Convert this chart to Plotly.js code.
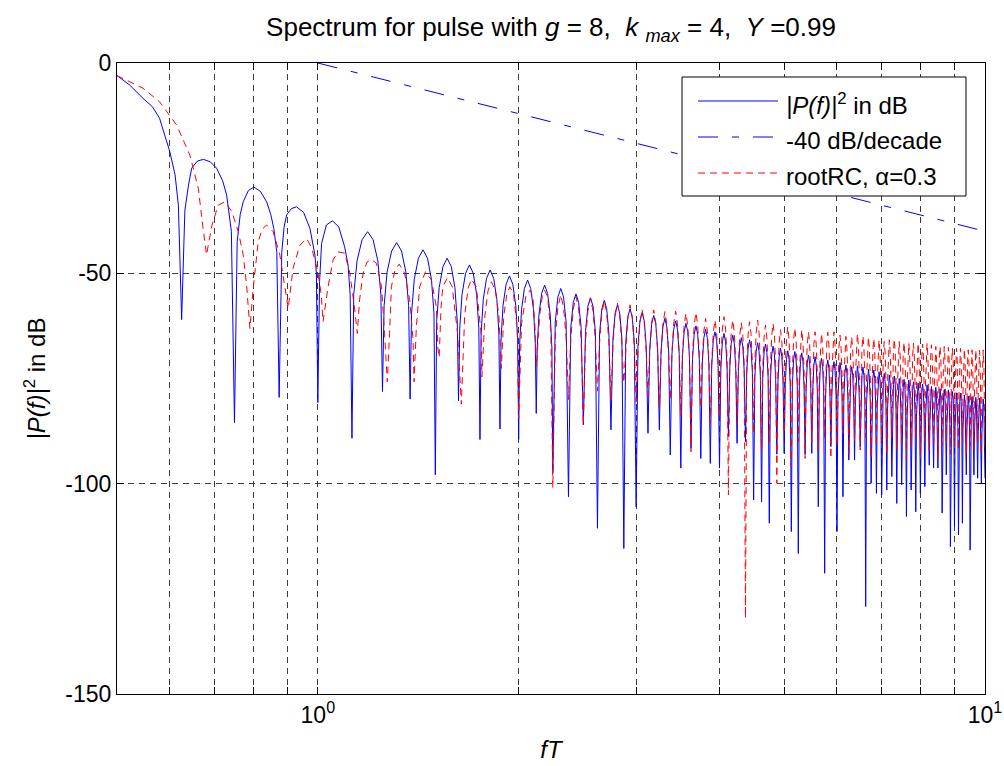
<!DOCTYPE html>
<html>
<head>
<meta charset="utf-8">
<script src="https://cdn.plot.ly/plotly-3.0.1.min.js"></script>
<style>
  html, body { margin: 0; padding: 0; background: #ffffff; }
  #chart { width: 1004px; height: 766px; }
</style>
</head>
<body>
<div id="chart"></div>
<script>
// ---------------- data ----------------
// |P(f)|^2 in dB : main lobe and first side lobes (fT <= 2.25)
const blueHeadF = [0.5, 0.522, 0.547, 0.565, 0.579, 0.6, 0.611, 0.618, 0.625,
  0.632, 0.64, 0.647, 0.66, 0.674, 0.69, 0.705, 0.72, 0.73, 0.742, 0.75,
  0.757, 0.765, 0.773, 0.787, 0.802, 0.82, 0.838, 0.85, 0.859, 0.868, 0.875,
  0.883, 0.89, 0.898, 0.913, 0.929, 0.952, 0.973, 0.99, 0.995, 1.0,
  1.006, 1.013, 1.03, 1.052, 1.075, 1.097, 1.11, 1.118, 1.125,
  1.132, 1.145, 1.165, 1.1875, 1.21, 1.23, 1.243, 1.25,
  1.257, 1.27, 1.29, 1.3125, 1.335, 1.355, 1.368, 1.375,
  1.382, 1.395, 1.415, 1.4375, 1.46, 1.48, 1.493, 1.5,
  1.507, 1.52, 1.54, 1.5625, 1.585, 1.605, 1.618, 1.625,
  1.632, 1.645, 1.665, 1.6875, 1.71, 1.73, 1.743, 1.75,
  1.757, 1.77, 1.79, 1.8125, 1.835, 1.855, 1.868, 1.875,
  1.882, 1.895, 1.915, 1.9375, 1.96, 1.98, 1.993, 2.0,
  2.007, 2.02, 2.04, 2.0625, 2.085, 2.105, 2.118, 2.125,
  2.132, 2.145, 2.165, 2.1875, 2.21, 2.23, 2.243, 2.25];
const blueHeadDb = [-3, -5.2, -8.4, -10.4, -13.1, -21.1, -26.6, -33.8, -61,
  -35, -29, -25, -23.3, -22.9, -23.5, -25, -28, -31.4, -40, -85.5,
  -42.5, -36, -33, -30.3, -29.5, -30.5, -33, -36, -39.3, -45, -79.5,
  -45, -39, -36.1, -34.6, -34.2, -35.5, -39.3, -45.6, -50, -80.7,
  -52, -42.9, -38.5, -37.5, -39, -43.7, -48, -55, -89.2,
  -55, -47, -42, -40.1, -42, -47, -55, -78.1,
  -57.7, -49.7, -44.7, -42.7, -44.7, -49.7, -57.7, -79.9,
  -59.4, -51.4, -46.4, -44.4, -46.4, -51.4, -59.4, -97.9,
  -61.4, -53.4, -48.4, -46.4, -48.4, -53.4, -61.4, -80.3,
  -63, -55, -50, -48, -50, -55, -63, -89.5,
  -64.2, -56.2, -51.2, -49.2, -51.2, -56.2, -64.2, -87,
  -65.6, -57.6, -52.6, -50.6, -52.6, -57.6, -65.6, -89.5,
  -66.6, -58.6, -53.6, -51.6, -53.6, -58.6, -66.6, -83.3,
  -67.8, -59.8, -54.8, -52.8, -54.8, -59.8, -67.8, -97.5];

// rootRC, alpha = 0.3 : first part (fT <= 2.25)
const redHeadF = [0.5, 0.547, 0.579, 0.614, 0.643, 0.662, 0.673, 0.681,
  0.694, 0.709, 0.726, 0.743, 0.76, 0.773, 0.782, 0.791,
  0.8, 0.814, 0.825, 0.838, 0.857, 0.877, 0.893, 0.903,
  0.918, 0.94, 0.962, 0.979, 1.0, 1.012, 1.018,
  1.036, 1.054, 1.072, 1.097, 1.117, 1.136, 1.146,
  1.155, 1.169, 1.185, 1.203, 1.224, 1.246, 1.259, 1.271,
  1.281, 1.289, 1.305, 1.324, 1.349, 1.373, 1.389, 1.394,
  1.405, 1.421, 1.45, 1.48, 1.505, 1.514, 1.52,
  1.53, 1.539, 1.565, 1.59, 1.62, 1.641,
  1.66, 1.68, 1.699, 1.728, 1.757, 1.762,
  1.78, 1.8, 1.82, 1.845, 1.868, 1.884,
  1.9, 1.92, 1.94, 1.965, 1.99, 2.0,
  2.02, 2.05, 2.08, 2.1, 2.115, 2.126,
  2.15, 2.17, 2.187, 2.21, 2.235, 2.25];
const redHeadDb = [-3, -6, -9.2, -14.7, -21.9, -29.8, -39.3, -45.6,
  -38.5, -33.8, -33, -35.3, -40.1, -45.6, -52.8, -63.1,
  -53.6, -42.5, -39.5, -38.5, -40.1, -45.6, -53.6, -58.3,
  -48.8, -43.3, -41.7, -44, -49.6, -55.2, -61.5,
  -53.2, -46.8, -44.9, -45.2, -50, -58.7, -64.3,
  -56.3, -50, -47.3, -46.7, -47.6, -53.2, -64.3, -75.8,
  -64.3, -53.2, -49.3, -47.8, -50, -56.3, -65.8, -75.8,
  -62.7, -53.2, -49.6, -51.6, -57.9, -68.2, -70,
  -58, -53.2, -51, -53.2, -64.3, -81.1,
  -60, -53.5, -51.4, -53.2, -64.3, -74.6,
  -60, -54, -52, -54, -60, -72.6,
  -60, -55, -53.2, -55, -63, -84.5,
  -62, -55.5, -54, -55.5, -62, -72.2,
  -60, -55.5, -54, -55.5, -64, -101];

// dense lobes, fT from 2.25 to 10 (6 points per lobe: side, side, peak, side, side, next null)
const lobeF = [
  2.269, 2.29, 2.3125, 2.335, 2.356, 2.375,  2.394, 2.415, 2.4375, 2.46, 2.481, 2.5,
  2.519, 2.54, 2.5625, 2.585, 2.606, 2.625,  2.644, 2.665, 2.6875, 2.71, 2.731, 2.75,
  2.769, 2.79, 2.8125, 2.835, 2.856, 2.875,  2.894, 2.915, 2.9375, 2.96, 2.981, 3,
  3.019, 3.04, 3.0625, 3.085, 3.106, 3.125,  3.144, 3.165, 3.1875, 3.21, 3.231, 3.25,
  3.269, 3.29, 3.3125, 3.335, 3.356, 3.375,  3.394, 3.415, 3.4375, 3.46, 3.481, 3.5,
  3.519, 3.54, 3.5625, 3.585, 3.606, 3.625,  3.644, 3.665, 3.6875, 3.71, 3.731, 3.75,
  3.769, 3.79, 3.8125, 3.835, 3.856, 3.875,  3.894, 3.915, 3.9375, 3.96, 3.981, 4,
  4.019, 4.04, 4.0625, 4.085, 4.106, 4.125,  4.144, 4.165, 4.1875, 4.21, 4.231, 4.25,
  4.269, 4.29, 4.3125, 4.335, 4.356, 4.375,  4.394, 4.415, 4.4375, 4.46, 4.481, 4.5,
  4.519, 4.54, 4.5625, 4.585, 4.606, 4.625,  4.644, 4.665, 4.6875, 4.71, 4.731, 4.75,
  4.769, 4.79, 4.8125, 4.835, 4.856, 4.875,  4.894, 4.915, 4.9375, 4.96, 4.981, 5,
  5.019, 5.04, 5.0625, 5.085, 5.106, 5.125,  5.144, 5.165, 5.1875, 5.21, 5.231, 5.25,
  5.269, 5.29, 5.3125, 5.335, 5.356, 5.375,  5.394, 5.415, 5.4375, 5.46, 5.481, 5.5,
  5.519, 5.54, 5.5625, 5.585, 5.606, 5.625,  5.644, 5.665, 5.6875, 5.71, 5.731, 5.75,
  5.769, 5.79, 5.8125, 5.835, 5.856, 5.875,  5.894, 5.915, 5.9375, 5.96, 5.981, 6,
  6.019, 6.04, 6.0625, 6.085, 6.106, 6.125,  6.144, 6.165, 6.1875, 6.21, 6.231, 6.25,
  6.269, 6.29, 6.3125, 6.335, 6.356, 6.375,  6.394, 6.415, 6.4375, 6.46, 6.481, 6.5,
  6.519, 6.54, 6.5625, 6.585, 6.606, 6.625,  6.644, 6.665, 6.6875, 6.71, 6.731, 6.75,
  6.769, 6.79, 6.8125, 6.835, 6.856, 6.875,  6.894, 6.915, 6.9375, 6.96, 6.981, 7,
  7.019, 7.04, 7.0625, 7.085, 7.106, 7.125,  7.144, 7.165, 7.1875, 7.21, 7.231, 7.25,
  7.269, 7.29, 7.3125, 7.335, 7.356, 7.375,  7.394, 7.415, 7.4375, 7.46, 7.481, 7.5,
  7.519, 7.54, 7.5625, 7.585, 7.606, 7.625,  7.644, 7.665, 7.6875, 7.71, 7.731, 7.75,
  7.769, 7.79, 7.8125, 7.835, 7.856, 7.875,  7.894, 7.915, 7.9375, 7.96, 7.981, 8,
  8.019, 8.04, 8.0625, 8.085, 8.106, 8.125,  8.144, 8.165, 8.1875, 8.21, 8.231, 8.25,
  8.269, 8.29, 8.3125, 8.335, 8.356, 8.375,  8.394, 8.415, 8.4375, 8.46, 8.481, 8.5,
  8.519, 8.54, 8.5625, 8.585, 8.606, 8.625,  8.644, 8.665, 8.6875, 8.71, 8.731, 8.75,
  8.769, 8.79, 8.8125, 8.835, 8.856, 8.875,  8.894, 8.915, 8.9375, 8.96, 8.981, 9,
  9.019, 9.04, 9.0625, 9.085, 9.106, 9.125,  9.144, 9.165, 9.1875, 9.21, 9.231, 9.25,
  9.269, 9.29, 9.3125, 9.335, 9.356, 9.375,  9.394, 9.415, 9.4375, 9.46, 9.481, 9.5,
  9.519, 9.54, 9.5625, 9.585, 9.606, 9.625,  9.644, 9.665, 9.6875, 9.71, 9.731, 9.75,
  9.769, 9.79, 9.8125, 9.835, 9.856, 9.875,  9.894, 9.915, 9.9375, 9.96, 9.981, 10];

const blueLobeDb = [
  -61.6, -55.6, -53.6, -55.6, -61.6, -103.1,  -62.9, -56.9, -54.9, -56.9, -62.9, -86,
  -63.8, -57.8, -55.8, -57.8, -63.8, -110.6,  -64.4, -58.4, -56.4, -58.4, -64.4, -87.2,
  -65.5, -59.5, -57.5, -59.5, -65.5, -115.4,  -66.4, -60.4, -58.4, -60.4, -66.4, -105.5,
  -67.3, -61.3, -59.3, -61.3, -67.3, -88,  -68, -62, -60, -62, -68, -87.2,
  -68.7, -62.7, -60.7, -62.7, -68.7, -93.2,  -69.3, -63.3, -61.3, -63.3, -69.3, -96.3,
  -69.9, -63.9, -61.9, -63.9, -69.9, -91.6,  -70.5, -64.5, -62.5, -64.5, -70.5, -94,
  -71.3, -65.3, -63.3, -65.3, -71.3, -95.2,  -71.9, -65.9, -63.9, -65.9, -71.9, -96.3,
  -72.3, -66.3, -64.3, -66.3, -72.3, -88.8,  -72.7, -66.7, -64.7, -66.7, -72.7, -90.4,
  -73.3, -67.3, -65.3, -67.3, -73.3, -90,  -73.8, -67.8, -65.8, -67.8, -73.8, -103.9,
  -74.5, -68.5, -66.5, -68.5, -74.5, -104.3,  -74.8, -68.8, -66.8, -68.8, -74.8, -109.4,
  -75.3, -69.3, -67.3, -69.3, -75.3, -93,  -75.8, -69.8, -67.8, -69.8, -75.8, -92.8,
  -76.4, -70.4, -68.4, -70.4, -76.4, -111.4,  -76.6, -70.6, -68.6, -70.6, -76.6, -116.6,
  -76.9, -70.9, -68.9, -70.9, -76.9, -93,  -77.4, -71.4, -69.4, -71.4, -77.4, -92.8,
  -77.8, -71.8, -69.8, -71.8, -77.8, -105.5,  -78.2, -72.2, -70.2, -72.2, -78.2, -121.3,
  -78.6, -72.6, -70.6, -72.6, -78.6, -91.2,  -79, -73, -71, -73, -79, -111.4,
  -79.2, -73.2, -71.2, -73.2, -79.2, -103.1,  -79.8, -73.8, -71.8, -73.8, -79.8, -94.4,
  -80.2, -74.2, -72.2, -74.2, -80.2, -94.4,  -80, -74, -72, -74, -80, -91.2,
  -80.3, -74.3, -72.3, -74.3, -80.3, -129.2,  -80.8, -74.8, -72.8, -74.8, -80.8, -99.9,
  -81, -75, -73, -75, -81, -102.3,  -81.4, -75.4, -73.4, -75.4, -81.4, -102.7,
  -81.8, -75.8, -73.8, -75.8, -81.8, -101.5,  -82.2, -76.2, -74.2, -76.2, -82.2, -98.3,
  -82.4, -76.4, -74.4, -76.4, -82.4, -104.7,  -83, -77, -75, -77, -83, -100.3,
  -83.2, -77.2, -75.2, -77.2, -83.2, -107.8,  -83.4, -77.4, -75.4, -77.4, -83.4, -101.5,
  -83.8, -77.8, -75.8, -77.8, -83.8, -106.7,  -84.1, -78.1, -76.1, -78.1, -84.1, -102.3,
  -84.3, -78.3, -76.3, -78.3, -84.3, -100.7,  -84.5, -78.5, -76.5, -78.5, -84.5, -95.6,
  -84.9, -78.9, -76.9, -78.9, -84.9, -96.3,  -85.1, -79.1, -77.1, -79.1, -85.1, -96.3,
  -85.4, -79.4, -77.4, -79.4, -85.4, -107,  -85.6, -79.6, -77.6, -79.6, -85.6, -97.9,
  -85.7, -79.7, -77.7, -79.7, -85.7, -115,  -86.1, -80.1, -78.1, -80.1, -86.1, -110.2,
  -86.4, -80.4, -78.4, -80.4, -86.4, -112.2,  -86.5, -80.5, -78.5, -80.5, -86.5, -109.4,
  -86.9, -80.9, -78.9, -80.9, -86.9, -97.9,  -87.2, -81.2, -79.2, -81.2, -87.2, -115.8,
  -87.3, -81.3, -79.3, -81.3, -87.3, -97.9,  -87.5, -81.5, -79.5, -81.5, -87.5, -98.7,
  -87.7, -81.7, -79.7, -81.7, -87.7, -99.9,  -87.9, -81.9, -79.9, -81.9, -87.9, -98.7];

const redLobeDb = [
  -65.1, -58.1, -55.1, -58.1, -65.1, -80,  -65.5, -58.5, -55.5, -58.5, -65.5, -86,
  -65.9, -58.9, -55.9, -58.9, -65.9, -78,  -66.5, -59.5, -56.5, -59.5, -66.5, -80,
  -67.1, -60.1, -57.1, -60.1, -67.1, -76,  -67.5, -60.5, -57.5, -60.5, -67.5, -80.5,
  -68.7, -61.7, -58.7, -61.7, -68.7, -79,  -68.7, -61.7, -58.7, -61.7, -68.7, -82,
  -69.1, -62.1, -59.1, -62.1, -69.1, -80,  -69, -62, -59, -62, -69, -84,
  -69.5, -62.5, -59.5, -62.5, -69.5, -92.4,  -69.3, -62.3, -59.3, -62.3, -69.3, -82,
  -70.7, -63.7, -60.7, -63.7, -70.7, -86,  -71.1, -64.1, -61.1, -64.1, -71.1, -84,
  -70.3, -63.3, -60.3, -63.3, -70.3, -102.7,  -71.1, -64.1, -61.1, -64.1, -71.1, -86,
  -71.7, -64.7, -61.7, -64.7, -71.7, -132,  -71.5, -64.5, -61.5, -64.5, -71.5, -88,
  -71.1, -64.1, -61.1, -64.1, -71.1, -92,  -72.3, -65.3, -62.3, -65.3, -72.3, -90,
  -71.9, -64.9, -61.9, -64.9, -71.9, -99.9,  -73.4, -66.4, -63.4, -66.4, -73.4, -88,
  -72.7, -65.7, -62.7, -65.7, -72.7, -96,  -73, -66, -63, -66, -73, -90,
  -73.4, -66.4, -63.4, -66.4, -73.4, -94,  -73.9, -66.9, -63.9, -66.9, -73.9, -90,
  -73.9, -66.9, -63.9, -66.9, -73.9, -92,  -74.3, -67.3, -64.3, -67.3, -74.3, -89,
  -74, -67, -64, -67, -74, -94,  -73.9, -66.9, -63.9, -66.9, -73.9, -91,
  -74.7, -67.7, -64.7, -67.7, -74.7, -88,  -75, -68, -65, -68, -75, -93,
  -75.1, -68.1, -65.1, -68.1, -75.1, -90,  -74.3, -67.3, -64.3, -67.3, -74.3, -92,
  -74.9, -67.9, -64.9, -67.9, -74.9, -89,  -75.1, -68.1, -65.1, -68.1, -75.1, -94,
  -75.5, -68.5, -65.5, -68.5, -75.5, -91,  -75.8, -68.8, -65.8, -68.8, -75.8, -90,
  -76.2, -69.2, -66.2, -69.2, -76.2, -93,  -75.8, -68.8, -65.8, -68.8, -75.8, -89,
  -75.6, -68.6, -65.6, -68.6, -75.6, -92,  -76.2, -69.2, -66.2, -69.2, -76.2, -90,
  -76.4, -69.4, -66.4, -69.4, -76.4, -94,  -76.6, -69.6, -66.6, -69.6, -76.6, -91,
  -76.6, -69.6, -66.6, -69.6, -76.6, -89,  -76.6, -69.6, -66.6, -69.6, -76.6, -93,
  -76.8, -69.8, -66.8, -69.8, -76.8, -90,  -76.6, -69.6, -66.6, -69.6, -76.6, -92,
  -77, -70, -67, -70, -77, -90,  -77.4, -70.4, -67.4, -70.4, -77.4, -94,
  -77.4, -70.4, -67.4, -70.4, -77.4, -91,  -77.4, -70.4, -67.4, -70.4, -77.4, -90,
  -77.6, -70.6, -67.6, -70.6, -77.6, -93,  -77.8, -70.8, -67.8, -70.8, -77.8, -91,
  -77.8, -70.8, -67.8, -70.8, -77.8, -92,  -77.8, -70.8, -67.8, -70.8, -77.8, -90,
  -78, -71, -68, -71, -78, -93,  -78.2, -71.2, -68.2, -71.2, -78.2, -91,
  -78.2, -71.2, -68.2, -71.2, -78.2, -92,  -78.2, -71.2, -68.2, -71.2, -78.2, -90,
  -78.3, -71.3, -68.3, -71.3, -78.3, -93,  -78.2, -71.2, -68.2, -71.2, -78.2, -92];

// -40 dB/decade reference line
const slopeF = [1, 10];
const slopeDb = [0, -40];

// axes ticks and labels
const xTickVals = [1, 10];
const xTickText = ['10<sup>0</sup>', '10<sup>1</sup>'];
const xMinorVals = [0.6, 0.7, 0.8, 0.9, 2, 3, 4, 5, 6, 7, 8, 9];
const yTickVals = [-150, -100, -50, 0];
const yTickText = ['-150', '-100', '-50', '0'];

const seriesNames = ['<i>|P(f)|</i><sup>2</sup> in dB', '-40 dB/decade', 'rootRC, \u03B1=0.3'];
const seriesColors = ['#0000ff', '#0000ff', '#ff0000'];
const seriesDash = ['solid', '20px,14px,7px,14px', '7px,5px'];

// ---------------- chart ----------------
const FONT = 'Liberation Sans, Arial, Helvetica, sans-serif';
const L = 117, R = 985, T = 63, B = 694;   // plot area in px
const W = R - L, H = B - T;
const px = x => (x - L) / W;
const py = y => (B - y) / H;

const traces = [
  { x: blueHeadF.concat(lobeF), y: blueHeadDb.concat(blueLobeDb), type: 'scatter', mode: 'lines',
    name: seriesNames[0], line: { color: seriesColors[0], width: 1, dash: seriesDash[0] }, hoverinfo: 'skip' },
  { x: slopeF, y: slopeDb, type: 'scatter', mode: 'lines',
    name: seriesNames[1], line: { color: seriesColors[1], width: 1, dash: seriesDash[1] }, hoverinfo: 'skip' },
  { x: redHeadF.concat(lobeF), y: redHeadDb.concat(redLobeDb), type: 'scatter', mode: 'lines',
    name: seriesNames[2], line: { color: seriesColors[2], width: 1, dash: seriesDash[2] }, hoverinfo: 'skip' }
];

// manual MATLAB-style legend
const legX0 = 682, legX1 = 966, legY0 = 77, legY1 = 196;
const rowY = [101, 137, 173];
const sampleX0 = 698, sampleX1 = 778, textX = 784;
const shapes = [{
  type: 'rect', xref: 'paper', yref: 'paper',
  x0: px(legX0), x1: px(legX1), y0: py(legY1), y1: py(legY0),
  fillcolor: '#ffffff', line: { color: '#000000', width: 1 }, layer: 'above'
}];
const annotations = [];
for (let i = 0; i < 3; i++) {
  shapes.push({
    type: 'line', xref: 'paper', yref: 'paper',
    x0: px(sampleX0), x1: px(sampleX1), y0: py(rowY[i]), y1: py(rowY[i]),
    line: { color: seriesColors[i], width: 1, dash: seriesDash[i] }, layer: 'above'
  });
  annotations.push({
    xref: 'paper', yref: 'paper', x: px(textX), y: py(rowY[i] + 3),
    xanchor: 'left', yanchor: 'middle', showarrow: false,
    text: seriesNames[i], font: { family: FONT, size: 24, color: '#000000' }
  });
}

const gridStyle = { showgrid: true, gridcolor: '#3c3c3c', gridwidth: 1, griddash: '6px,5px' };
const axisCommon = Object.assign({
  ticks: 'inside', ticklen: 7, tickwidth: 1, tickcolor: '#000000',
  showline: true, linecolor: '#000000', linewidth: 1, mirror: 'allticks',
  zeroline: false, tickfont: { family: FONT, size: 23, color: '#000000' }
}, gridStyle);

const layout = {
  width: 1004, height: 766,
  margin: { l: L, r: 1004 - R, t: T, b: 766 - B, pad: 0 },
  paper_bgcolor: '#ffffff', plot_bgcolor: '#ffffff',
  font: { family: FONT, size: 23, color: '#000000' },
  showlegend: false,
  title: {
    text: 'Spectrum for pulse with <i>g</i> = 8,&nbsp; <i>k</i> <sub><i>max</i></sub> = 4,&nbsp; <i>Y</i> =0.99',
    x: (L + R) / 2 / 1004, xref: 'container', xanchor: 'center',
    y: 1 - 27 / 766, yref: 'container', yanchor: 'middle',
    font: { family: FONT, size: 26, color: '#000000' }
  },
  xaxis: Object.assign({}, axisCommon, {
    type: 'log', range: [Math.log10(0.5), 1],
    tickmode: 'array', tickvals: xTickVals, ticktext: xTickText,
    minor: Object.assign({ tickmode: 'array', tickvals: xMinorVals, ticks: 'inside', ticklen: 7,
      tickwidth: 1, tickcolor: '#000000' }, gridStyle),
    title: { text: '<i>fT</i>', font: { family: FONT, size: 24 }, standoff: 14 }
  }),
  yaxis: Object.assign({}, axisCommon, {
    range: [-150, 0], tickmode: 'array', tickvals: yTickVals, ticktext: yTickText,
    title: { text: '<i>|P(f)|</i><sup>2</sup> in dB', font: { family: FONT, size: 24 }, standoff: 12 }
  }),
  shapes: shapes,
  annotations: annotations
};

Plotly.newPlot('chart', traces, layout, { displayModeBar: false, staticPlot: true });
</script>
</body>
</html>
